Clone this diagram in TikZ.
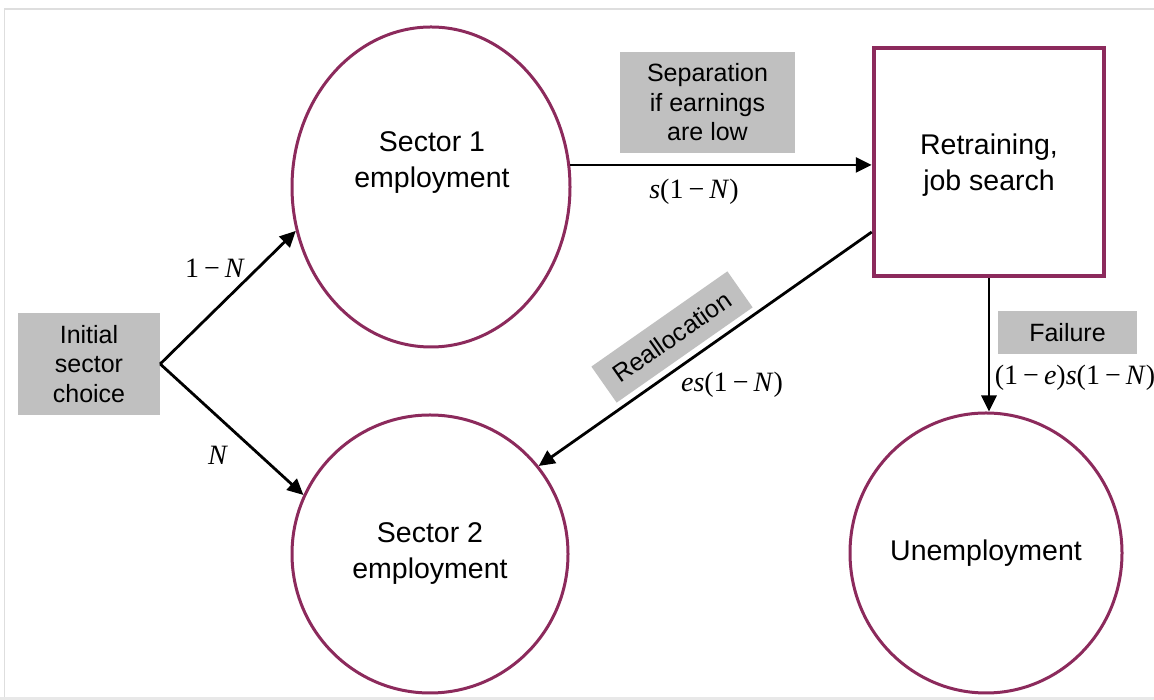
\documentclass[tikz,border=0pt]{standalone}
\usepackage{fontspec}
\setmainfont{Liberation Sans}
\newfontfamily\tnr{Liberation Serif}
\usetikzlibrary{arrows.meta,shapes.geometric,calc}
\definecolor{plum}{RGB}{140,42,92}
\definecolor{boxgray}{RGB}{192,192,192}
\definecolor{framegray}{RGB}{222,222,222}
\newcommand{\mn}{\hspace{0.18em}−\hspace{0.18em}}
\tikzset{
  ellip/.style={ellipse, draw=plum, line width=3pt, fill=white, align=center, inner sep=0pt},
  rtbox/.style={rectangle, draw=plum, line width=4.5pt, fill=white, align=center, inner sep=0pt},
  gbox/.style={rectangle, fill=boxgray, align=center, inner sep=0pt, font=\fontsize{25}{29.5}\selectfont},
  txt/.style={align=center, inner sep=0pt},
  lbl/.style={font=\tnr\fontsize{28}{30}\selectfont, inner sep=0pt},
  arr/.style={draw=black, line width=2.8pt, -{Triangle[length=16pt,width=15pt]}}
}
\begin{document}
\begin{tikzpicture}[x=1pt,y=1pt,font=\fontsize{28.5}{36}\selectfont]
\useasboundingbox (0,0) rectangle (1154,700);
\fill[white] (0,0) rectangle (1154,700);
\draw[framegray, line width=1.5pt] (4.5,0) -- (4.5,691) -- (1154,691);
\fill[framegray!70] (0,0) rectangle (1154,3);

% main nodes
\node[ellip, minimum width=278pt, minimum height=320pt] (s1) at (431,513) {};
\node[txt] (s1t) at (432,537) {Sector 1\\employment};
\node[ellip, minimum width=276pt, minimum height=278pt] (s2) at (430,146) {Sector 2\\employment};
\node[ellip, minimum width=272pt, minimum height=280pt] (un) at (986,147) {Unemployment};
\node[rtbox, minimum width=230pt, minimum height=228pt] (rt) at (989,538) {};
\node[txt] (rtt) at (989,535) {Retraining,\\job search};

% gray boxes
\node[gbox, minimum width=142pt, minimum height=102pt] (init) at (89,336) {Initial\\sector\\choice};
\node[gbox, minimum width=175pt, minimum height=101pt] (sep) at (707.5,597.5) {Separation\\if earnings\\are low};
\node[gbox, minimum width=139pt, minimum height=43pt] (fail) at (1067.5,367.5) {Failure};
\node[gbox, minimum width=166pt, minimum height=44pt, rotate=35] (real) at (672,363) {Reallocation};

% connectors
\draw[arr] (init.east) -- (s1.198);
\draw[arr] (init.east) -- (s2.155);
\draw[arr] (s1.9) -- (s1.9 -| rt.west);
\coordinate (rtout) at ($(rt.west)+(0,-70)$);
\draw[arr] (rtout) -- (s2.39);
\draw[arr] (rt.south) -- (rt.south |- un.north);

% labels
\node[lbl] (l1) at (215,432) {1\mn\textit{N}};
\node[lbl] (l2) at (218,245) {\textit{N}};
\node[lbl] (l3) at (694,508) {\textit{s}(1\mn\textit{N})};
\node[lbl] (l4) at (732,315) {\textit{es}(1\mn\textit{N})};
\node[lbl] (l5) at (1075,322) {(1\mn\textit{e})\textit{s}(1\mn\textit{N})};
\end{tikzpicture}
\end{document}
